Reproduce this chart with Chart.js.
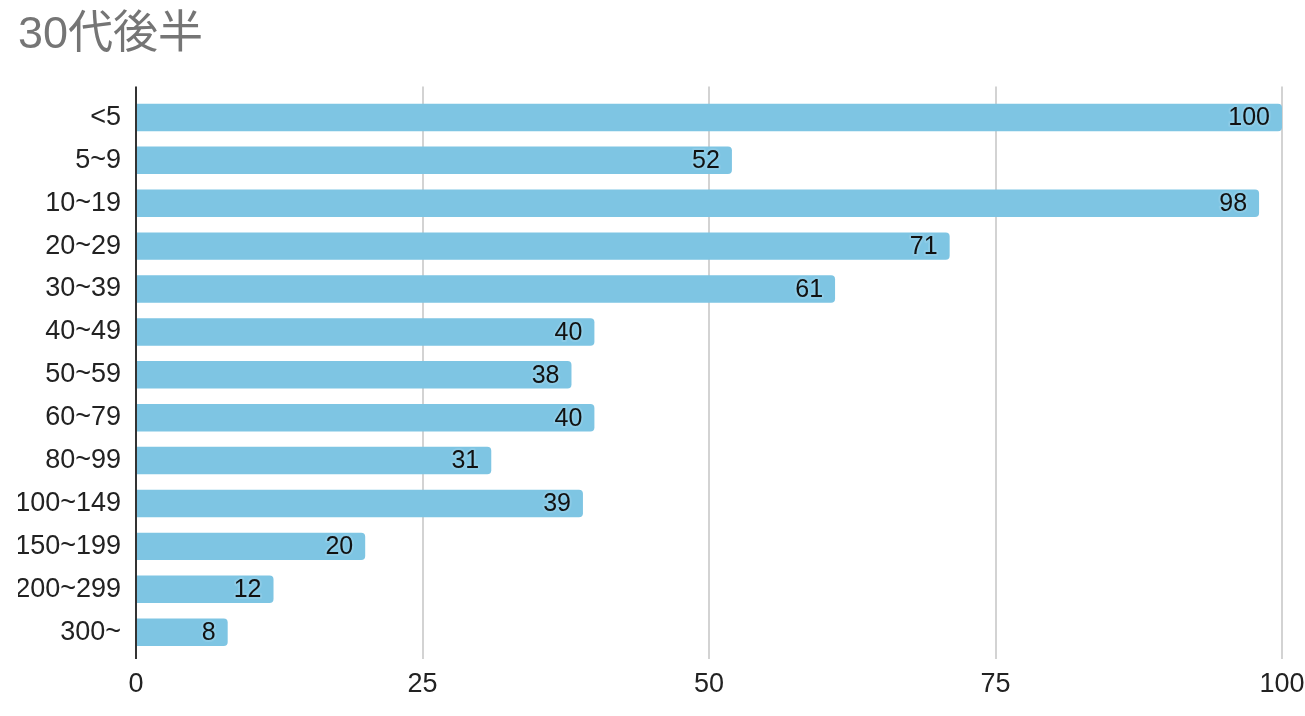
<!DOCTYPE html>
<html lang="ja">
<head>
<meta charset="utf-8">
<title>30代後半</title>
<script src="https://cdn.jsdelivr.net/npm/chart.js@4.4.1/dist/chart.umd.min.js"></script>
<style>
  html, body { margin: 0; padding: 0; background: #fff; overflow: hidden; }
  .chart-wrap { position: relative; width: 1305px; height: 716px; }
  canvas { display: block; }
</style>
</head>
<body>
<div class="chart-wrap">
  <canvas id="chart" aria-label="30代後半"></canvas>
</div>
<script>
const titleText = "30代後半";
const categories = ["<5", "5~9", "10~19", "20~29", "30~39", "40~49", "50~59", "60~79", "80~99", "100~149", "150~199", "200~299", "300~"];
const values = [100, 52, 98, 71, 61, 40, 38, 40, 31, 39, 20, 12, 8];
const xTicks = [0, 25, 50, 75, 100];

const FONT = "Arial, 'Liberation Sans', 'Noto Sans CJK JP', sans-serif";
const BAR_COLOR = "#7ec5e3";

// vertical grid lines + zero axis, a little longer than the plot area
const gridLines = {
  id: "gridLines",
  beforeDatasetsDraw(chart) {
    const { ctx, chartArea, scales } = chart;
    ctx.save();
    ctx.lineWidth = 2;
    ctx.strokeStyle = "#d3d3d3";
    xTicks.forEach((t) => {
      if (t === 0) return;
      const x = Math.round(scales.x.getPixelForValue(t));
      ctx.beginPath();
      ctx.moveTo(x, chartArea.top - 9.5);
      ctx.lineTo(x, chartArea.bottom + 5.5);
      ctx.stroke();
    });
    ctx.restore();
  },
  afterDatasetsDraw(chart) {
    const { ctx, chartArea, scales } = chart;
    const x = Math.round(scales.x.getPixelForValue(0));
    ctx.save();
    ctx.lineWidth = 2;
    ctx.strokeStyle = "#333";
    ctx.beginPath();
    ctx.moveTo(x, chartArea.top - 9.5);
    ctx.lineTo(x, chartArea.bottom + 5.5);
    ctx.stroke();
    ctx.restore();
  },
};

// value labels inside the bar end
const valueLabels = {
  id: "valueLabels",
  afterDatasetsDraw(chart) {
    const { ctx } = chart;
    const meta = chart.getDatasetMeta(0);
    ctx.save();
    ctx.font = "25px " + FONT;
    ctx.textAlign = "right";
    ctx.textBaseline = "middle";
    ctx.lineJoin = "round";
    meta.data.forEach((bar, i) => {
      const x = bar.x - 12;
      const y = bar.y + 1;
      ctx.lineWidth = 4;
      ctx.strokeStyle = "#8ccbe6";
      ctx.strokeText(String(values[i]), x, y);
      ctx.fillStyle = "#111";
      ctx.fillText(String(values[i]), x, y);
    });
    ctx.restore();
  },
};

new Chart(document.getElementById("chart"), {
  type: "bar",
  data: {
    labels: categories,
    datasets: [
      {
        data: values,
        backgroundColor: BAR_COLOR,
        borderWidth: 0,
        borderRadius: 4,
        borderSkipped: "start",
        categoryPercentage: 1,
        barPercentage: 0.64,
      },
    ],
  },
  options: {
    indexAxis: "y",
    responsive: true,
    maintainAspectRatio: false,
    animation: false,
    layout: {
      padding: { left: 18, right: 0, top: 0, bottom: 0 },
    },
    plugins: {
      legend: { display: false },
      tooltip: { enabled: false },
      title: {
        display: true,
        text: titleText,
        align: "start",
        color: "#757575",
        font: { family: FONT, size: 45, weight: "normal", lineHeight: 1.2 },
        padding: { top: 9, bottom: 33 },
      },
    },
    scales: {
      x: {
        min: 0,
        max: 100,
        afterBuildTicks(scale) {
          scale.ticks = xTicks.map((v) => ({ value: v }));
        },
        afterFit(scale) {
          scale.paddingRight = 23;
        },
        grid: { display: false, drawTicks: false },
        border: { display: false },
        ticks: {
          color: "#222",
          padding: 15,
          maxRotation: 0,
          font: { family: FONT, size: 27 },
        },
      },
      y: {
        afterFit(scale) {
          scale.width = 118;
        },
        grid: { display: false, drawTicks: false },
        border: { display: false },
        ticks: {
          color: "#222",
          padding: 15,
          font: { family: FONT, size: 27 },
        },
      },
    },
  },
  plugins: [gridLines, valueLabels],
});
</script>
</body>
</html>
